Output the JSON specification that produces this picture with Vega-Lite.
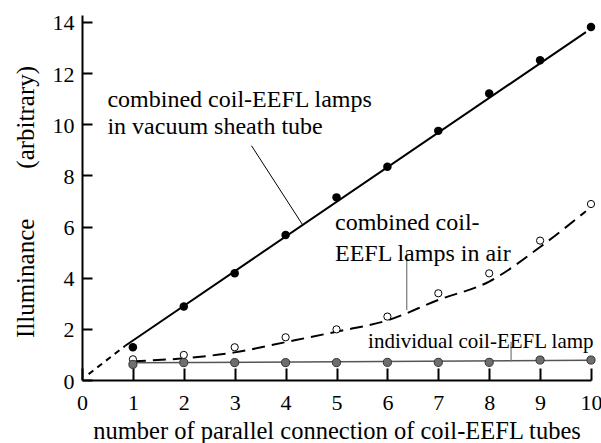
{
  "$schema": "https://vega.github.io/schema/vega-lite/v6.json",
  "autosize": {"type": "none"},
  "padding": {"left": 82, "top": 15, "right": 10, "bottom": 63},
  "width": 509,
  "height": 365,
  "background": "white",
  "config": {
    "view": {"stroke": null},
    "axis": {
      "grid": false,
      "domainColor": "black",
      "domainWidth": 2,
      "tickColor": "black",
      "tickWidth": 2,
      "labelFont": "Liberation Serif",
      "labelFontSize": 22,
      "labelColor": "black",
      "titleFont": "Liberation Serif",
      "titleFontWeight": "normal",
      "titleColor": "black",
      "labelFlush": false,
      "labelOverlap": false
    }
  },
  "datasets": {
    "vac": [
      {"x": 1, "y": 1.28}, {"x": 2, "y": 2.87}, {"x": 3, "y": 4.17}, {"x": 4, "y": 5.67}, {"x": 5, "y": 7.14},
      {"x": 6, "y": 8.34}, {"x": 7, "y": 9.74}, {"x": 8, "y": 11.2}, {"x": 9, "y": 12.5}, {"x": 10, "y": 13.8}
    ],
    "air": [
      {"x": 1, "y": 0.81}, {"x": 2, "y": 0.98}, {"x": 3, "y": 1.28}, {"x": 4, "y": 1.67}, {"x": 5, "y": 1.98},
      {"x": 6, "y": 2.48}, {"x": 7, "y": 3.39}, {"x": 8, "y": 4.17}, {"x": 9, "y": 5.45}, {"x": 10, "y": 6.88}
    ],
    "ind": [
      {"x": 1, "y": 0.61}, {"x": 2, "y": 0.68}, {"x": 3, "y": 0.68}, {"x": 4, "y": 0.68}, {"x": 5, "y": 0.68},
      {"x": 6, "y": 0.69}, {"x": 7, "y": 0.69}, {"x": 8, "y": 0.69}, {"x": 9, "y": 0.78}, {"x": 10, "y": 0.78}
    ],
    "vacFit": [{"x": 0.85, "y": 1.34}, {"x": 9.9, "y": 13.6}],
    "vacExt": [{"x": 0.13, "y": 0.23}, {"x": 0.85, "y": 1.34}],
    "airCurve": [
      {"x": 1, "y": 0.73}, {"x": 2, "y": 0.85}, {"x": 3, "y": 1.08}, {"x": 4, "y": 1.48}, {"x": 5, "y": 1.89},
      {"x": 6, "y": 2.33}, {"x": 7, "y": 3.13}, {"x": 8, "y": 3.85}, {"x": 9, "y": 5.2}, {"x": 9.9, "y": 6.6}
    ],
    "indLine": [{"x": 1, "y": 0.67}, {"x": 10, "y": 0.77}],
    "leaderBlack": [{"x": 3.33, "y": 9.16}, {"x": 4.34, "y": 6.05}],
    "leaderGrey": [
      {"id": "air", "x": 6.38, "y": 4.96}, {"id": "air", "x": 6.38, "y": 2.74},
      {"id": "ind", "x": 8.43, "y": 1.5}, {"id": "ind", "x": 8.43, "y": 0.72}
    ],
    "labels": [
      {"x": 0.5, "y": 10.66, "text": "combined coil-EEFL lamps"},
      {"x": 0.5, "y": 9.6, "text": "in vacuum sheath tube"},
      {"x": 4.97, "y": 5.87, "text": "combined coil-"},
      {"x": 4.97, "y": 4.65, "text": "EEFL lamps in air"}
    ],
    "labelSmall": [
      {"x": 5.62, "y": 1.24, "text": "individual coil-EEFL lamp"}
    ]
  },
  "encoding": {
    "x": {
      "field": "x", "type": "quantitative",
      "scale": {"domain": [0, 10], "nice": false, "zero": false},
      "axis": {
        "values": [0, 1, 2, 3, 4, 5, 6, 7, 8, 9, 10],
        "tickSize": -12,
        "labelPadding": 24,
        "title": "number of parallel connection of coil-EEFL tubes",
        "titleFontSize": 24.5,
        "titleY": 58,
        "titleBaseline": "alphabetic"
      }
    },
    "y": {
      "field": "y", "type": "quantitative",
      "scale": {"domain": [0, 14.27], "nice": false, "zero": false},
      "axis": {
        "values": [0, 2, 4, 6, 8, 10, 12, 14],
        "tickSize": -10,
        "labelPadding": 18,
        "labelBaseline": "middle",
        "labelOffset": 1,
        "title": "Illuminance\u00a0\u00a0\u00a0\u00a0\u00a0\u00a0\u00a0\u00a0(arbitrary)",
        "titleFontSize": 25,
        "titleAngle": 270,
        "titleX": -57,
        "titleY": 186.5,
        "titleAlign": "center",
        "titleBaseline": "middle"
      }
    }
  },
  "layer": [
    {"data": {"name": "vacFit"}, "mark": {"type": "line", "color": "black", "strokeWidth": 2}},
    {"data": {"name": "vacExt"}, "mark": {"type": "line", "color": "black", "strokeWidth": 2, "strokeDash": [6, 5]}},
    {"data": {"name": "airCurve"}, "mark": {"type": "line", "color": "black", "strokeWidth": 2, "strokeDash": [13, 7], "interpolate": "monotone"}},
    {"data": {"name": "indLine"}, "mark": {"type": "line", "color": "#555555", "strokeWidth": 1.5}},
    {"data": {"name": "leaderBlack"}, "mark": {"type": "line", "color": "black", "strokeWidth": 1}},
    {"data": {"name": "leaderGrey"}, "mark": {"type": "line", "color": "#777777", "strokeWidth": 1.2}, "encoding": {"detail": {"field": "id"}}},
    {"data": {"name": "vac"}, "mark": {"type": "point", "shape": "circle", "filled": true, "color": "black", "size": 72, "opacity": 1}},
    {"data": {"name": "air"}, "mark": {"type": "point", "shape": "circle", "filled": true, "fill": "white", "stroke": "black", "strokeWidth": 1, "size": 52, "opacity": 1}},
    {"data": {"name": "ind"}, "mark": {"type": "point", "shape": "circle", "filled": true, "fill": "#6e6e6e", "stroke": "#333333", "strokeWidth": 1, "size": 66, "opacity": 1}},
    {"data": {"name": "labels"}, "mark": {"type": "text", "align": "left", "baseline": "alphabetic", "font": "Liberation Serif", "fontSize": 24, "color": "black"}, "encoding": {"text": {"field": "text"}}},
    {"data": {"name": "labelSmall"}, "mark": {"type": "text", "align": "left", "baseline": "alphabetic", "font": "Liberation Serif", "fontSize": 21, "color": "black"}, "encoding": {"text": {"field": "text"}}}
  ]
}
